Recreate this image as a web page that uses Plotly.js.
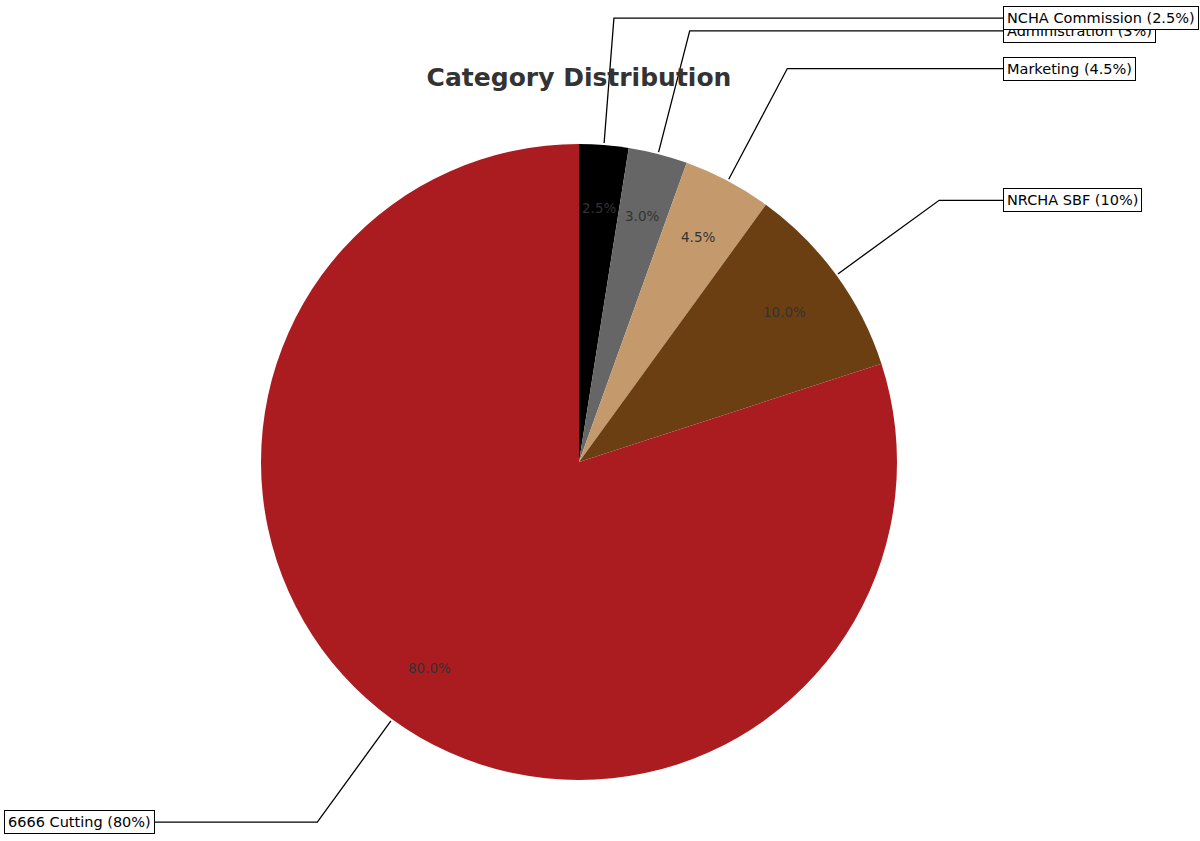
<!DOCTYPE html>
<html>
<head>
<meta charset="utf-8">
<script src="https://cdn.plot.ly/plotly-3.0.1.min.js"></script>
<style>
  html, body { margin: 0; padding: 0; background: #fff; }
  #chart { width: 1200px; height: 841px; }
</style>
</head>
<body>
<div id="chart"></div>
<script>
var categories = ["NCHA Commission", "Administration", "Marketing", "NRCHA SBF", "6666 Cutting"];
var shares = [2.5, 3, 4.5, 10, 80];
var sliceColors = ["#000000", "#666666", "#c49a6c", "#6b3f12", "#aa1c20"];

var W = 1200, H = 841;
var cx = 579, cy = 462, R = 318;

function px(x) { return x / W; }
function py(y) { return 1 - y / H; }

var total = shares.reduce(function (a, b) { return a + b; }, 0);

var pieData = [{
    type: "pie",
    values: shares,
    labels: categories,
    marker: { colors: sliceColors, line: { width: 0 } },
    sort: false,
    direction: "clockwise",
    rotation: 0,
    textinfo: "none",
    hoverinfo: "skip",
    showlegend: false,
    domain: { x: [px(cx - R), px(cx + R)], y: [py(cy + R), py(cy - R)] }
}];

var shapes = [];
var annotations = [];
var labelBoxes = [];
var cum = 0;

for (var i = 0; i < shares.length; i++) {
    var mid = (cum + shares[i] / 2) / total * 2 * Math.PI;
    cum += shares[i];
    var dx = Math.sin(mid), dy = Math.cos(mid);   // dy up

    // percent text at 0.8 radius
    annotations.push({
        xref: "paper", yref: "paper",
        x: px(cx + 0.8 * R * dx), y: py(cy - 0.8 * R * dy),
        xanchor: "center", yanchor: "middle",
        text: shares[i].toFixed(1) + "%",
        showarrow: false,
        font: { family: "DejaVu Sans", size: 13.5, color: "#333333" }
    });

    var side = dx >= 0 ? 1 : -1;
    var tx = cx + side * 1.35 * R;
    var ty = cy - 1.4 * R * dy;
    var ex = cx + 1.4 * R * dx;
    var sx = cx + (R + 2) * dx, sy = cy - (R + 2) * dy;

    shapes.push({
        type: "path", xref: "paper", yref: "paper",
        path: "M " + px(sx) + " " + py(sy) + " L " + px(ex) + " " + py(ty) + " L " + px(tx) + " " + py(ty),
        line: { color: "#000000", width: 1.3 }
    });

    labelBoxes.push({
        xref: "paper", yref: "paper",
        x: px(tx - side * 5), y: py(ty),
        xanchor: side > 0 ? "left" : "right",
        yanchor: "middle",
        text: categories[i] + " (" + shares[i] + "%)",
        showarrow: false,
        bgcolor: "#ffffff",
        bordercolor: "#000000",
        borderwidth: 1,
        borderpad: 3,
        font: { family: "DejaVu Sans", size: 14.5, color: "#000000" }
    });
}

// first label drawn last so it sits on top, as in the reference
labelBoxes.reverse();
annotations = annotations.concat(labelBoxes);

var layout = {
    width: W,
    height: H,
    margin: { t: 0, r: 0, b: 0, l: 0 },
    paper_bgcolor: "#ffffff",
    title: {
        text: "<b>Category Distribution</b>",
        x: px(cx), xanchor: "center",
        y: py(77), yanchor: "middle",
        font: { family: "DejaVu Sans", size: 25, color: "#333333" }
    },
    shapes: shapes,
    annotations: annotations
};

var config = { responsive: false, displaylogo: false, displayModeBar: false };

Plotly.newPlot(document.getElementById("chart"), pieData, layout, config);
</script>
</body>
</html>
